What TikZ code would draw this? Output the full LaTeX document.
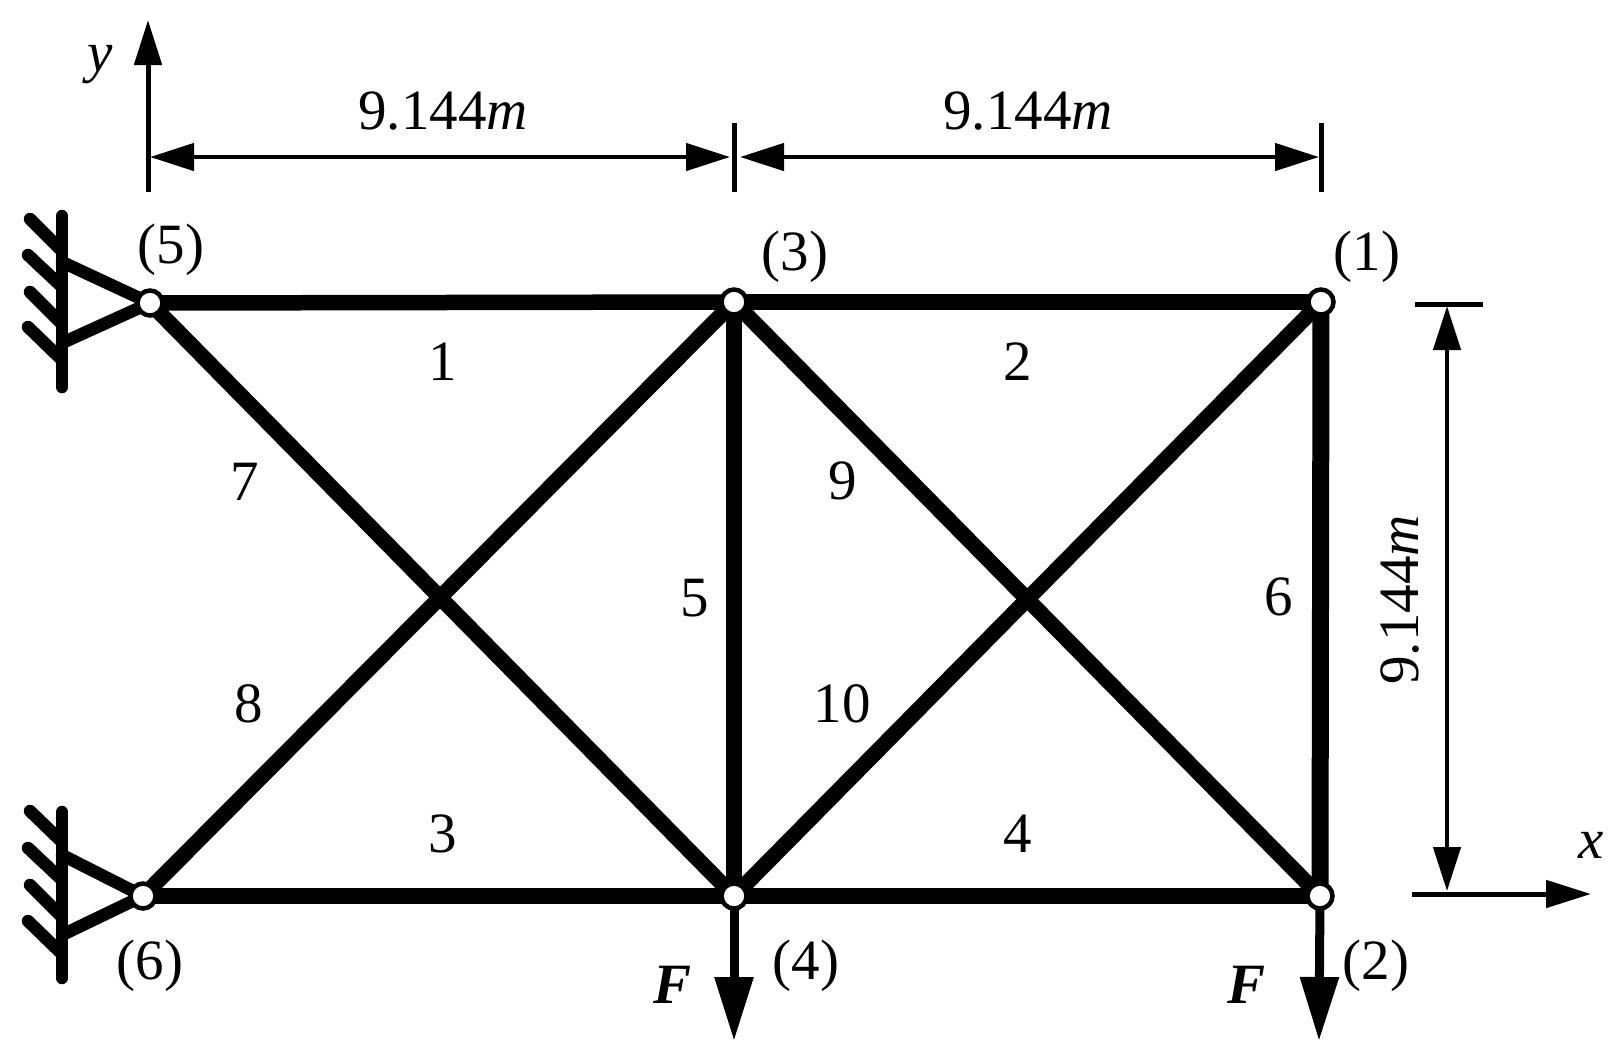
\documentclass[tikz,border=0pt]{standalone}
\usepackage{fontspec}
\setmainfont{Liberation Serif}
\usetikzlibrary{arrows.meta,backgrounds}
\tikzset{
  joint/.style={circle,draw=black,fill=white,line width=4.5pt,minimum size=25pt,inner sep=0pt,outer sep=0pt},
  member/.style={line width=15.5pt,black},
  wallline/.style={line width=12.5pt,line cap=round,black},
  thin line/.style={line width=5pt,black},
  dimarrow/.style={line width=4.5pt,black,{Triangle[length=44pt,width=27pt]}-{Triangle[length=44pt,width=27pt]}},
  axisarrow/.style={line width=5pt,black,-{Triangle[length=45pt,width=27pt]}},
  loadarrow/.style={line width=9pt,black,-{Triangle[length=64pt,width=37pt]}},
  lab/.style={inner sep=0pt,font=\fontsize{57}{62}\selectfont},
  fsym/.style={inner sep=0pt,font=\fontsize{57}{62}\selectfont\bfseries\itshape},
}
\begin{document}
\begin{tikzpicture}[x=1pt,y=-1pt]
\useasboundingbox (0,0) rectangle (1619,1061);
% joints
\node[joint] (n1) at (1321,302) {};
\node[joint] (n2) at (1320,896) {};
\node[joint] (n3) at (734,302) {};
\node[joint] (n4) at (734,896) {};
\node[joint] (n5) at (150,303) {};
\node[joint] (n6) at (143,896) {};
% free ends
\coordinate (w5t) at (62,216); \coordinate (w5b) at (62,387);
\coordinate (w5a) at (62,262); \coordinate (w5c) at (62,343);
\coordinate (w6t) at (62,812); \coordinate (w6b) at (62,978);
\coordinate (w6a) at (62,855); \coordinate (w6c) at (62,935);
\coordinate (yb) at (148,192); \coordinate (yt) at (148,20);
\coordinate (xl) at (1412,894); \coordinate (xr) at (1591,894);
\coordinate (t1a) at (734,123); \coordinate (t1b) at (734,192);
\coordinate (t2a) at (1321,123); \coordinate (t2b) at (1321,192);
\coordinate (d1) at (150,157); \coordinate (d2) at (730,157);
\coordinate (d3) at (740,157); \coordinate (d4) at (1319,157);
\coordinate (vtl) at (1415,304); \coordinate (vtr) at (1483,304);
\coordinate (v1) at (1447,306); \coordinate (v2) at (1447,891);
\coordinate (f1) at (734,1041); \coordinate (f2) at (1319,1041);
\begin{scope}[on background layer]
  \draw[member] (n5.center) -- (n3.center);
  \draw[member] (n3.center) -- (n1.center);
  \draw[member] (n6.center) -- (n4.center);
  \draw[member] (n4.center) -- (n2.center);
  \draw[member] (n3.center) -- (n4.center);
  \draw[member,line width=17pt] (n1.center) -- (n2.center);
  \draw[member] (n5.center) -- (n4.center);
  \draw[member] (n6.center) -- (n3.center);
  \draw[member] (n3.center) -- (n2.center);
  \draw[member] (n4.center) -- (n1.center);
  % supports
  \draw[wallline] (w5t) -- (w5b);
  \draw[wallline] (n5.center) -- (w5a);
  \draw[wallline] (n5.center) -- (w5c);
  \draw[wallline] (30,219) -- (60,249);
  \draw[wallline] (28,255) -- (60,285);
  \draw[wallline] (30,292) -- (60,322);
  \draw[wallline] (28,327) -- (60,358);
  \draw[wallline] (w6t) -- (w6b);
  \draw[wallline] (n6.center) -- (w6a);
  \draw[wallline] (n6.center) -- (w6c);
  \draw[wallline] (30,811) -- (60,840);
  \draw[wallline] (28,848) -- (60,878);
  \draw[wallline] (30,885) -- (60,915);
  \draw[wallline] (28,921) -- (60,952);
  % loads
  \draw[loadarrow] (n4.center) -- (f1);
  \draw[loadarrow] (n2.center) -- (f2);
\end{scope}
% axes and dimensions
\draw[axisarrow] (yb) -- (yt);
\draw[axisarrow] (xl) -- (xr);
\draw[thin line] (t1a) -- (t1b);
\draw[thin line] (t2a) -- (t2b);
\draw[dimarrow] (d1) -- (d2);
\draw[dimarrow] (d3) -- (d4);
\draw[thin line] (vtl) -- (vtr);
\draw[dimarrow] (v1) -- (v2);
% labels
\node[lab] (ly) at (100,65) {\itshape y};
\node[lab] (lx) at (1591,845) {\itshape x};
\node[lab] (dh1) at (443,111) {9.144\textit{m}};
\node[lab] (dh2) at (1028,111) {9.144\textit{m}};
\node[lab,rotate=90] (dv) at (1400,600) {9.144\textit{m}};
\node[lab] (j5) at (171,250) {(5)};
\node[lab] (j3) at (795,257) {(3)};
\node[lab] (j1) at (1367,257) {(1)};
\node[lab] (j6) at (150,966) {(6)};
\node[lab] (j4) at (806,966) {(4)};
\node[lab] (j2) at (1376,966) {(2)};
\node[fsym] (f4) at (672,985) {F};
\node[fsym] (f22) at (1246,985) {F};
\node[lab] (m1) at (443,362) {1};
\node[lab] (m2) at (1018,362) {2};
\node[lab] (m3) at (443,834) {3};
\node[lab] (m4) at (1018,834) {4};
\node[lab] (m5) at (695,598) {5};
\node[lab] (m6) at (1279,597) {6};
\node[lab] (m7) at (245,482) {7};
\node[lab] (m8) at (249,704) {8};
\node[lab] (m9) at (843,481) {9};
\node[lab] (m10) at (842,704) {10};
\end{tikzpicture}
\end{document}
